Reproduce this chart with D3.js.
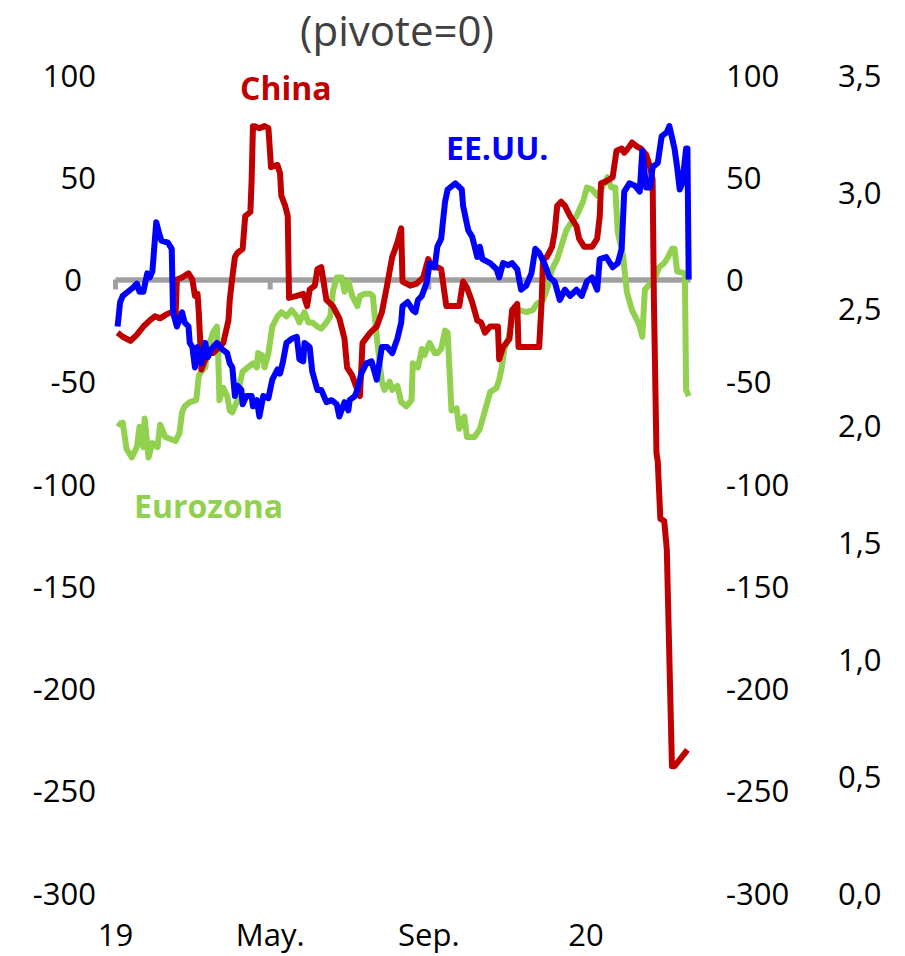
<!DOCTYPE html>
<html>
<head>
<meta charset="utf-8">
<script src="https://cdn.jsdelivr.net/npm/d3@7"></script>
<style>
  body { margin: 0; background: #fff; }
  svg text { font-family: "Open Sans", sans-serif; }
</style>
</head>
<body>
<div id="chart"></div>
<script>
// day offsets from 1 Jan 2019, value
const chinaData = [[2,-26],[6,-28],[12,-30],[17,-27],[22,-23],[27,-20],[31,-18],[35,-19],[40,-17],[44,-16],[47,-18],[48,0],[52,1],[57,3],[60,0],[62,-8],[64,-7],[65,-16],[66,-29],[67,-44],[72,-36],[76,-36],[84,-31],[88,-20],[89,-10],[91,1],[93,11],[95,13],[99,15],[101,31],[105,33],[106,49],[107,75],[108,75],[112,74],[116,75],[119,74],[121,55],[126,56],[128,52],[129,41],[132,36],[134,31],[135,-9],[141,-8],[146,-7],[149,-13],[151,-5],[155,-3],[157,5],[160,6],[164,-10],[169,-13],[174,-19],[178,-29],[180,-43],[184,-47],[188,-54],[190,-57],[192,-31],[198,-26],[203,-23],[207,-16],[211,-3],[215,11],[219,18],[222,25],[223,-1],[229,-3],[234,-2],[239,1],[243,10],[246,6],[250,6],[253,5],[257,-13],[262,-13],[267,-13],[270,-1],[273,-4],[277,-11],[281,-20],[284,-21],[287,-26],[291,-23],[297,-23],[298,-39],[301,-33],[306,-29],[308,-15],[312,-12],[313,-33],[319,-33],[329,-33],[331,-10],[332,10],[335,11],[339,16],[341,23],[343,36],[346,38],[349,36],[353,31],[358,26],[360,20],[364,16],[370,16],[374,20],[376,31],[377,47],[381,48],[386,50],[389,63],[393,64],[395,62],[399,65],[401,67],[405,65],[408,64],[412,61],[415,55],[417,49],[418,-10],[420,-85],[421,-89],[423,-117],[426,-118],[428,-132],[432,-238],[434,-238],[439,-234],[444,-230]];

const usData = [[2,-23],[4,-11],[6,-8],[10,-6],[14,-4],[17,-2],[19,-6],[22,-6],[25,3],[27,1],[29,4],[32,28],[34,23],[36,19],[41,18],[44,15],[45,-16],[48,-23],[52,-16],[54,-21],[57,-23],[58,-31],[60,-33],[62,-43],[64,-33],[67,-41],[70,-31],[72,-38],[75,-34],[79,-31],[83,-34],[87,-36],[89,-41],[91,-43],[93,-57],[95,-52],[98,-54],[99,-61],[102,-57],[106,-57],[107,-62],[110,-59],[112,-67],[115,-57],[119,-58],[122,-49],[126,-44],[128,-46],[130,-41],[133,-31],[137,-29],[141,-28],[143,-39],[146,-40],[147,-31],[151,-33],[153,-45],[157,-54],[160,-54],[164,-60],[168,-59],[172,-61],[174,-67],[178,-60],[181,-64],[182,-59],[186,-57],[188,-54],[191,-46],[195,-41],[199,-40],[203,-49],[207,-33],[211,-33],[215,-36],[219,-29],[222,-21],[223,-13],[227,-11],[231,-15],[233,-16],[235,-10],[238,-8],[242,-1],[244,8],[248,6],[250,16],[253,20],[256,38],[258,44],[264,47],[269,44],[270,36],[274,24],[277,21],[281,11],[283,16],[285,10],[291,8],[296,5],[298,1],[301,8],[305,7],[308,8],[312,5],[315,-5],[319,-3],[323,3],[326,15],[329,13],[333,8],[337,1],[341,-1],[345,-10],[349,-5],[353,-8],[358,-5],[362,-8],[366,-1],[370,1],[374,-5],[376,10],[381,11],[386,6],[390,8],[393,15],[395,43],[399,47],[403,46],[407,43],[409,63],[412,45],[415,45],[417,55],[421,57],[424,70],[428,72],[430,75],[434,64],[436,55],[438,44],[440,47],[443,64],[444,64],[445,0]];

const euroData = [[2,-70],[4,-71],[6,-70],[9,-83],[13,-87],[17,-82],[19,-72],[22,-82],[23,-68],[26,-87],[29,-80],[33,-82],[35,-71],[39,-77],[43,-78],[47,-79],[50,-75],[52,-65],[54,-62],[58,-60],[63,-59],[65,-47],[67,-45],[70,-43],[72,-34],[76,-26],[79,-23],[80,-36],[81,-59],[84,-53],[87,-57],[89,-64],[91,-65],[95,-59],[97,-50],[99,-45],[103,-43],[107,-41],[110,-43],[111,-36],[114,-37],[116,-43],[119,-36],[122,-23],[126,-18],[129,-16],[133,-18],[137,-15],[141,-18],[143,-21],[147,-16],[150,-21],[153,-21],[157,-23],[160,-24],[164,-21],[167,-18],[169,-6],[172,1],[176,1],[178,-6],[181,-1],[184,-8],[188,-13],[190,-8],[194,-7],[198,-7],[200,-8],[203,-28],[207,-50],[209,-54],[213,-50],[215,-54],[219,-52],[222,-60],[226,-62],[230,-59],[231,-41],[235,-43],[238,-34],[240,-37],[244,-31],[248,-36],[250,-36],[253,-34],[256,-25],[258,-26],[261,-64],[265,-63],[267,-73],[271,-67],[273,-77],[279,-77],[283,-73],[287,-64],[291,-55],[296,-53],[298,-49],[300,-43],[302,-34],[305,-29],[308,-20],[310,-16],[314,-15],[319,-16],[324,-15],[327,-12],[332,-10],[336,-3],[339,5],[343,10],[346,16],[350,24],[354,28],[358,31],[363,38],[366,45],[370,44],[374,41],[377,44],[382,50],[385,45],[388,45],[390,23],[394,12],[397,-6],[401,-15],[405,-20],[407,-23],[409,-28],[411,-5],[415,-2],[419,1],[422,6],[426,8],[429,11],[432,15],[434,15],[436,4],[442,3],[443,-54],[445,-57]];

const xTickDates = ['2019-01-01', '2019-05-01', '2019-09-01', '2020-01-01'];
const xTickLabels = ['19', 'May.', 'Sep.', '20'];
const leftTicks = [100, 50, 0, -50, -100, -150, -200, -250, -300];
const rightTicks = [3.5, 3.0, 2.5, 2.0, 1.5, 1.0, 0.5, 0.0];

const width = 905, height = 956;
const start = new Date(2019, 0, 1);
const toDate = d => d3.timeDay.offset(start, d);

const svg = d3.select('#chart')
    .append('svg')
    .attr('width', width)
    .attr('height', height);

const xScale = d3.scaleTime()
    .domain([start, toDate(446)])
    .range([115, 690]);

const yScale = d3.scaleLinear()
    .domain([-300, 100])
    .range([893, 75]);

const yScaleRight = d3.scaleLinear()
    .domain([0, 3.5])
    .range([893, 75]);

const esLocale = d3.formatLocale({ decimal: ',', thousands: '.', grouping: [3], currency: ['', ''], minus: '-' });
const intFmt = esLocale.format('d');
const commaFmt = esLocale.format('.1f');

// title
svg.append('text')
    .attr('x', 397)
    .attr('y', 46)
    .attr('text-anchor', 'middle')
    .attr('fill', '#404040')
    .style('font-size', '42px')
    .text('(pivote=0)');

// left axis
const leftAxis = svg.append('g')
    .attr('transform', 'translate(96,0)')
    .call(d3.axisLeft(yScale).tickValues(leftTicks).tickSize(0).tickPadding(0).tickFormat(intFmt));
// middle axis
const midAxis = svg.append('g')
    .attr('transform', 'translate(726,0)')
    .call(d3.axisRight(yScale).tickValues(leftTicks).tickSize(0).tickPadding(0).tickFormat(intFmt));
// far right axis
const farAxis = svg.append('g')
    .attr('transform', 'translate(838,0)')
    .call(d3.axisRight(yScaleRight).tickValues(rightTicks).tickSize(0).tickPadding(0).tickFormat(commaFmt));

[leftAxis, midAxis, farAxis].forEach(g => {
    g.select('.domain').remove();
    g.selectAll('text')
        .attr('fill', '#000')
        .attr('dy', '0.36em')
        .style('font-size', '31px')
        .style('font-family', '"Open Sans", sans-serif');
});
// the zero label on the left sits a little further in
leftAxis.selectAll('.tick text').filter(d => d === 0).attr('x', -14);

// x labels
const xAxis = svg.append('g')
    .attr('transform', 'translate(0,924)')
    .call(d3.axisBottom(xScale)
        .tickValues(xTickDates.map(d => new Date(d + 'T00:00:00')))
        .tickSize(0).tickPadding(0)
        .tickFormat((d, i) => xTickLabels[i]));
xAxis.select('.domain').remove();
xAxis.selectAll('text')
    .attr('fill', '#000')
    .attr('dy', '0.71em')
    .style('font-size', '31px')
    .style('font-family', '"Open Sans", sans-serif');

// zero line with ticks
const zeroAxis = svg.append('g')
    .attr('transform', `translate(0,${yScale(0)})`)
    .call(d3.axisBottom(xScale)
        .tickValues(xTickDates.map(d => new Date(d + 'T00:00:00')))
        .tickSize(10).tickSizeOuter(0)
        .tickFormat(''));
zeroAxis.select('.domain')
    .attr('stroke', '#a0a0a0')
    .attr('stroke-width', 5.5);
zeroAxis.selectAll('.tick line')
    .attr('stroke', '#a0a0a0')
    .attr('stroke-width', 5);

const line = d3.line()
    .x(d => xScale(toDate(d[0])))
    .y(d => yScale(d[1]));

const series = [
    { data: euroData, color: '#92d050' },
    { data: chinaData, color: '#c00000' },
    { data: usData, color: '#0000ff' }
];

svg.selectAll('.series')
    .data(series)
    .enter()
    .append('path')
    .attr('class', 'series')
    .attr('fill', 'none')
    .attr('stroke', d => d.color)
    .attr('stroke-width', 6)
    .attr('stroke-linejoin', 'round')
    .attr('d', d => line(d.data));

// series labels
const labels = [
    { text: 'China', x: 240, y: 100, color: '#c00000' },
    { text: 'EE.UU.', x: 446, y: 160, color: '#0000ff' },
    { text: 'Eurozona', x: 134, y: 518, color: '#92d050' }
];
svg.selectAll('.lbl')
    .data(labels)
    .enter()
    .append('text')
    .attr('class', 'lbl')
    .attr('x', d => d.x)
    .attr('y', d => d.y)
    .attr('fill', d => d.color)
    .style('font-size', '32px')
    .style('font-weight', 'bold')
    .text(d => d.text);
</script>
</body>
</html>
